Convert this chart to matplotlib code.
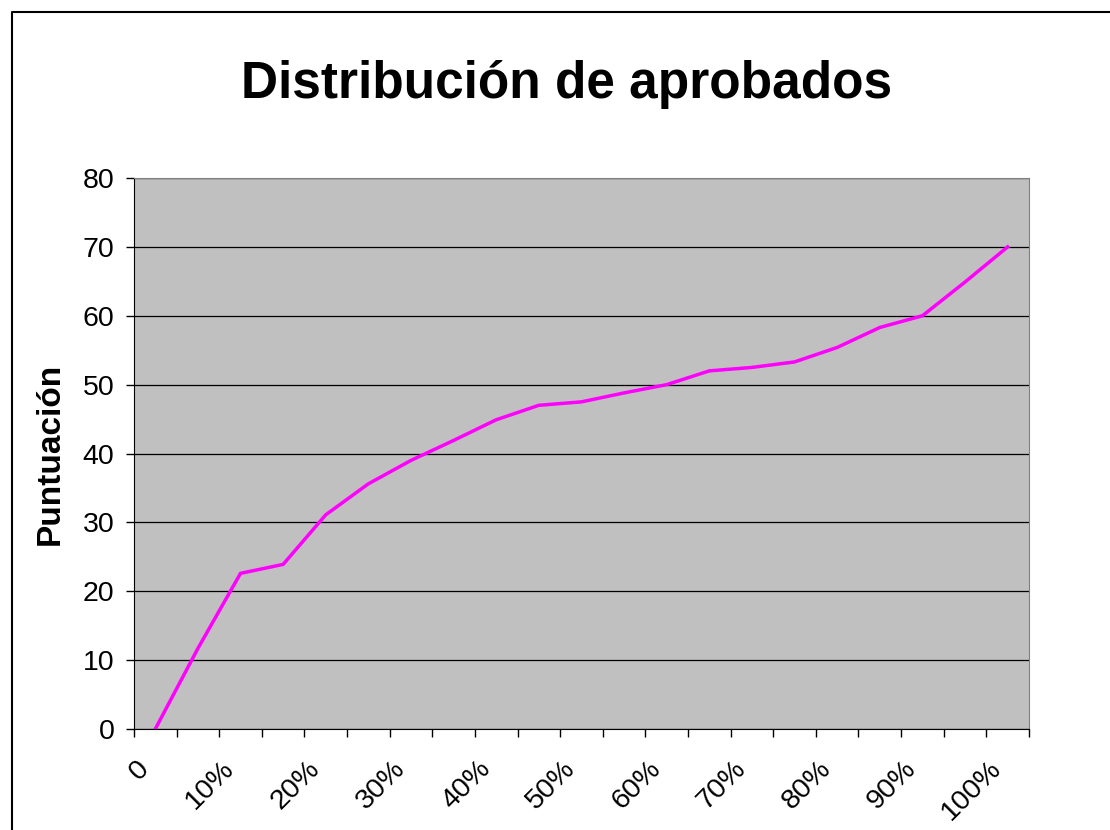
import matplotlib
matplotlib.use("Agg")
import matplotlib.pyplot as plt
from matplotlib.lines import Line2D
from matplotlib.transforms import ScaledTranslation

plt.rcParams["font.family"] = ["Liberation Sans", "DejaVu Sans"]

# percentile categories (only every second one is labelled on the axis)
categories = ["0"] + [f"{p}%" for p in range(5, 101, 5)]
puntuacion = [0, 11.7, 22.6, 23.9, 31.1, 35.6, 39.0, 41.9, 44.9, 47.0, 47.5,
              48.8, 50.0, 52.0, 52.5, 53.3, 55.4, 58.3, 60.0, 64.9, 70.0]
yticks = [0, 10, 20, 30, 40, 50, 60, 70, 80]

fig = plt.figure(figsize=(11.1, 8.3), dpi=100)
ax = fig.add_axes([0.1207, 0.1217, 0.8063, 0.6638])
ax.set_facecolor("#C0C0C0")

n = len(categories)
xs = [i + 0.5 for i in range(n)]
ax.plot(xs, puntuacion, color="#FF00FF", lw=2.5, solid_joinstyle="miter")

ax.set_xlim(0, n)
ax.set_ylim(0, 80)
ax.set_yticks(yticks)
ax.yaxis.grid(True, color="black", lw=0.9)
ax.set_axisbelow(True)
ax.tick_params(axis="y", direction="out", length=6, width=1, labelsize=20.5, pad=8)

# tick marks at category boundaries, labels at the (every other) category centre
ax.set_xticks(range(n + 1))
ax.set_xticklabels([])
ax.tick_params(axis="x", which="major", direction="out", length=6, width=1)
ax.set_xticks(xs[::2], minor=True)
ax.set_xticklabels(categories[::2], minor=True, rotation=45, ha="right",
                   va="center", rotation_mode="anchor", fontsize=20.5)
ax.tick_params(axis="x", which="minor", length=0, pad=26)
shift = ScaledTranslation(-10 / 100, 0, fig.dpi_scale_trans)
for lab in ax.get_xticklabels(minor=True):
    lab.set_transform(lab.get_transform() + shift)

for s in ("left", "bottom"):
    ax.spines[s].set_color("black")
for s in ("top", "right"):
    ax.spines[s].set_color("#808080")

ax.set_ylabel("Puntuación", fontsize=24, fontweight="bold", labelpad=12)

fig.text(0.51, 0.882, "Distribución de aprobados", ha="center", va="baseline",
         fontsize=37, fontweight="bold")

# chart-area frame (only left and top edges fall inside the picture)
fig.add_artist(Line2D([0.0104, 0.0104, 1.01], [-0.01, 0.9855, 0.9855],
                      transform=fig.transFigure, color="black", lw=1.5))

fig.savefig("out.png", dpi=100)
